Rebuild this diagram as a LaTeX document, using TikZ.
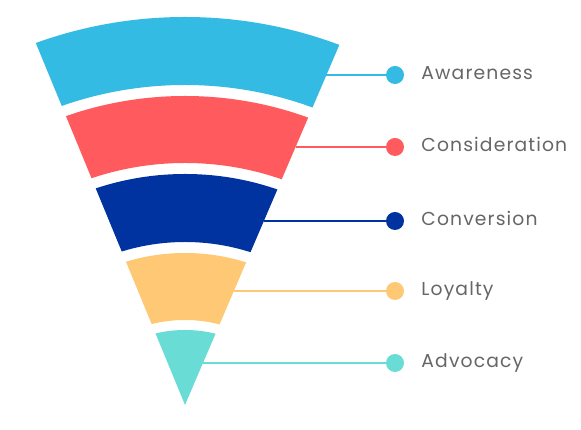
\documentclass[tikz,border=0pt]{standalone}
\usepackage{fontspec}
\setmainfont{Poppins}[LetterSpace=6]
\usepackage{xcolor}
\usetikzlibrary{positioning}

\definecolor{aware}{HTML}{33BBE3}
\definecolor{consid}{HTML}{FF5B5E}
\definecolor{conver}{HTML}{0033A0}
\definecolor{loyal}{HTML}{FFC875}
\definecolor{advoc}{HTML}{6ADCD6}
\definecolor{textgray}{HTML}{666666}

\begin{document}
\begin{tikzpicture}[x=0.03cm,y=0.03cm,node distance=17,
      dot/.style={circle,inner sep=0pt,minimum size=0.54cm},
      stagetext/.style={inner sep=0pt,text height=0.7em,text depth=0pt,
        text=textgray,font=\fontsize{16}{18}\selectfont},
      link/.style={line width=1.5pt}]
    \useasboundingbox (0,0) rectangle (581,430);
    % Funnel bands
    \coordinate (apex) at (185,25);
    \coordinate (ctr) at (185,-26);
    \begin{scope}
      \clip (apex) -- +(112.4:520) -- +(66.8:520) -- cycle;
      \fill[aware,even odd rule] (ctr) circle (439) (ctr) circle (371);
      \fill[consid,even odd rule] (ctr) circle (360) (ctr) circle (293);
      \fill[conver,even odd rule] (ctr) circle (282) (ctr) circle (214);
      \fill[loyal,even odd rule] (ctr) circle (203) (ctr) circle (136);
      \fill[advoc] (ctr) circle (126);
    \end{scope}
    % Stages
    \foreach \name/\col/\y/\x/\txt in {aw/aware/355/326.4/Awareness,
        co/consid/283/295.6/Consideration, cv/conver/209/263.9/Conversion,
        lo/loyal/139/233.9/Loyalty, ad/advoc/67/203/Advocacy} {
      \coordinate (\name-e) at (\x,\y);
      \node[dot,fill=\col] (\name-d) at (395,\y) {};
      \node[stagetext,right=of \name-d] (\name-t) {\txt};
      \draw[link,\col] (\name-e) -- (\name-d);
    }
  \end{tikzpicture}
\end{document}
